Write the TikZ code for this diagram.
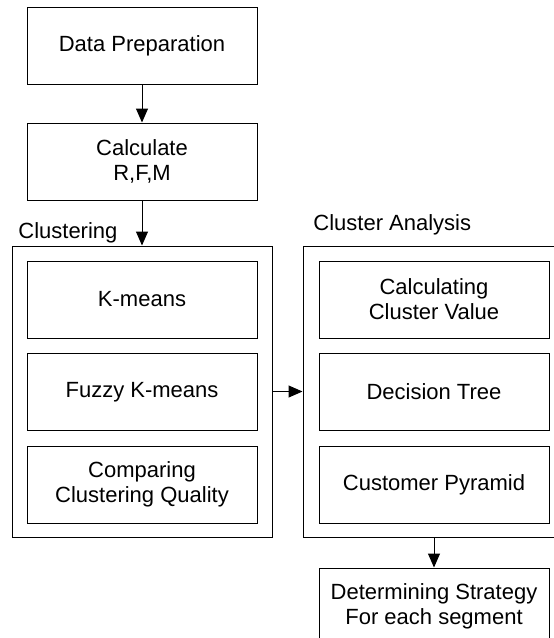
\documentclass[tikz,border=0pt]{standalone}
\usepackage{fontspec}
\setmainfont{Liberation Sans}
\usetikzlibrary{arrows.meta}

\begin{document}
\begin{tikzpicture}[x=0.5pt,y=-0.5pt,
		font=\fontsize{11}{12.5}\selectfont,
		box/.style={draw,line width=0.5pt,minimum width=115pt,minimum height=38.5pt,inner sep=0pt,align=center},
		frame/.style={draw,line width=0.5pt,inner sep=0pt,minimum height=145.5pt},
		flow/.style={-{Triangle[width=6pt,length=7pt]},line width=0.5pt}]
			\useasboundingbox (0,0) rectangle (553,638);
			\node[box] (prep) at (142,46) {Data Preparation};
			\node[box] (calc) at (142,161.5) {Calculate\\R,F,M};
			\node[frame,minimum width=130pt] (clus) at (142.5,391.5) {};
			\node[frame,minimum width=131pt] (ana) at (434,391.5) {};
			\node[anchor=base west,inner sep=0pt] (clusName) at (18,238) {Clustering};
			\node[anchor=base west,inner sep=0pt] (anaName) at (313,230) {Cluster Analysis};
			\node[box] (kmeans) at (142,299.5) {K-means};
			\node[box] (fuzzy) at (142,392) {Fuzzy K-means};
			\node[box] (compare) at (142,484.5) {Comparing\\Clustering Quality};
			\node[box] (value) at (434,299.5) {Calculating\\Cluster Value};
			\node[box] (tree) at (434,392) {Decision Tree};
			\node[box] (pyramid) at (434,484.5) {Customer Pyramid};
			\node[box] (strategy) at (434,606.5) {Determining Strategy\\For each segment};
			\draw[flow] (prep) -- (calc);
			\draw[flow] (calc) -- (calc |- clus.north);
			\draw[flow] (clus) -- (ana);
			\draw[flow] (ana) -- (strategy);
		\end{tikzpicture}
\end{document}
